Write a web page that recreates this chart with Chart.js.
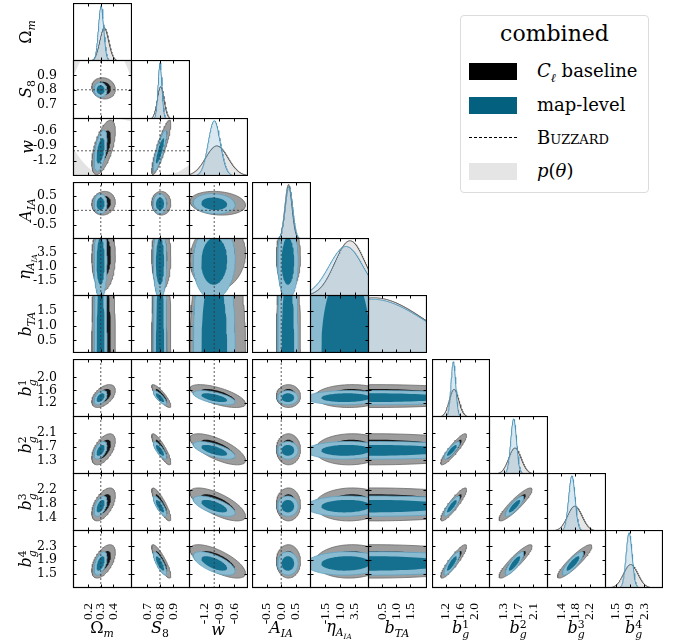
<!DOCTYPE html>
<html>
<head>
<meta charset="utf-8">
<script src="https://cdn.jsdelivr.net/npm/chart.js@4.4.1/dist/chart.umd.min.js"></script>
<style>
  body { margin: 0; background: #fff; }
  #fig { position: relative; width: 675px; height: 644px; overflow: hidden; font-family: "DejaVu Serif", serif; color: #000; }
  #fig canvas { position: absolute; }
  .ylab { position: absolute; transform: translate(-50%, -50%) rotate(-90deg); white-space: nowrap; font-size: 16px; }
  .xlab { position: absolute; transform: translate(-50%, -50%); white-space: nowrap; font-size: 16px; }
  .ss { display: inline-block; vertical-align: -0.45em; font-size: 0.68em; line-height: 0.95; }
  .ss span { display: block; }
  sub { font-size: 0.68em; }
  #legend { position: absolute; left: 460px; top: 15px; width: 189px; height: 178px; border: 1px solid #dcdcdc; border-radius: 4px; box-sizing: border-box; }
  #legend .title { position: absolute; left: 0; right: 0; top: 5px; text-align: center; font-size: 22px; }
  #legend .row { position: absolute; left: 0; height: 20px; }
  #legend .sw { position: absolute; left: 8px; top: 1px; width: 48px; height: 17px; }
  #legend .txt { position: absolute; left: 76px; top: -2px; font-size: 18px; white-space: nowrap; }
</style>
</head>
<body>
<div id="fig">
  <div id="legend">
    <div class="title">combined</div>
    <div class="row" style="top:46px"><div class="sw" style="background:#000"></div><div class="txt"><i>C</i><sub><i>ℓ</i></sub> baseline</div></div>
    <div class="row" style="top:80px"><div class="sw" style="background:#04607f"></div><div class="txt">map-level</div></div>
    <div class="row" style="top:113px"><div class="sw" style="height:0;top:8px;border-top:1px dashed #000"></div><div class="txt" style="font-variant:small-caps">Buzzard</div></div>
    <div class="row" style="top:146px"><div class="sw" style="background:#e5e5e5"></div><div class="txt"><i>p</i>(<i>θ</i>)</div></div>
  </div>
</div>
<script>
// parameters, in corner-plot order
const paramLabels = [
  'Ω<sub><i>m</i></sub>',
  '<i>S</i><sub>8</sub>',
  '<i>w</i>',
  '<i>A</i><sub><i>IA</i></sub>',
  '<i>η</i><sub><i>A</i><sub><i>IA</i></sub></sub>',
  '<i>b</i><sub><i>TA</i></sub>',
  '<i>b</i><span class="ss"><span>1</span><span><i>g</i></span></span>',
  '<i>b</i><span class="ss"><span>2</span><span><i>g</i></span></span>',
  '<i>b</i><span class="ss"><span>3</span><span><i>g</i></span></span>',
  '<i>b</i><span class="ss"><span>4</span><span><i>g</i></span></span>'
];
const tickVals = [
  [0.2, 0.3, 0.4], [0.7, 0.8, 0.9], [-1.2, -0.9, -0.6], [-0.5, 0.0, 0.5], [-1.5, 1.0, 3.5],
  [0.5, 1.0, 1.5], [1.2, 1.6, 2.0], [1.3, 1.7, 2.1], [1.4, 1.8, 2.2], [1.5, 1.9, 2.3]
];
// axis extents when the parameter is on x (column) and on y (row)
const colMin = [0.08, 0.577, -1.5, -1.01, -4.15, 0.0, 0.824, 0.89, 1.01, 1.2];
const colMax = [0.547, 1.031, -0.33, 1.03, 5.97, 2.09, 2.42, 2.51, 2.65, 2.83];
const rowMin = [0, 0.598, -1.51, -1.005, -4.24, 0.066, 0.77, 0.9, 1.01, 1.08];
const rowMax = [1, 1.006, -0.337, 0.995, 6.13, 2.05, 2.57, 2.59, 2.69, 2.78];
// BUZZARD input cosmology
const truth = [0.3, 0.8, -1.0, 0.0, null, null, null, null, null, null];

// 1D marginals (mean, std) : C_l baseline and map-level
const mean1C = [0.327, 0.805, -0.95, 0.25, 2.7, 0.2, 1.43, 1.6, 1.78, 1.92];
const sd1C   = [0.035, 0.026, 0.22, 0.12, 2.6, 1.8, 0.13, 0.17, 0.2, 0.2];
const mean1M = [0.302, 0.80, -1.0, 0.26, 2.0, 0.15, 1.41, 1.565, 1.70, 1.876];
const sd1M   = [0.021, 0.015, 0.12, 0.125, 2.9, 1.85, 0.065, 0.08, 0.09, 0.085];

// 2D contours (mean, std)
const mean2C = [0.322, 0.81, -0.93, 0.25, 2.8, 0.2, 1.42, 1.62, 1.78, 1.86];
const sd2C   = [0.038, 0.03, 0.225, 0.17, 2.5, 1.8, 0.145, 0.185, 0.195, 0.2];
const mean2M = [0.298, 0.80, -1.0, 0.23, 2.0, 0.15, 1.37, 1.59, 1.73, 1.8];
const sd2M   = [0.021, 0.021, 0.17, 0.145, 2.8, 1.8, 0.09, 0.105, 0.12, 0.14];

// correlation coefficients, row i against columns 0..i-1
const rhoC = [
  [],
  [-0.1],
  [0.6, 0.88],
  [0.1, 0.0, -0.15],
  [0.05, 0.0, 0.1, 0.0],
  [0.0, 0.0, 0.0, 0.0, 0.0],
  [0.5, -0.85, -0.65, 0.0, 0.05, 0.0],
  [0.55, -0.85, -0.7, 0.0, 0.05, 0.0, 0.9],
  [0.55, -0.85, -0.7, 0.0, 0.05, 0.0, 0.9, 0.9],
  [0.55, -0.85, -0.7, 0.0, 0.05, 0.0, 0.9, 0.9, 0.9]
];
const rhoM = [
  [],
  [-0.05],
  [0.5, 0.85],
  [0.0, 0.0, -0.1],
  [0.0, 0.0, 0.05, 0.0],
  [0.0, 0.0, 0.0, 0.0, 0.0],
  [0.45, -0.8, -0.6, 0.0, 0.05, 0.0],
  [0.5, -0.8, -0.65, 0.0, 0.05, 0.0, 0.85],
  [0.5, -0.8, -0.65, 0.0, 0.05, 0.0, 0.85, 0.85],
  [0.5, -0.8, -0.65, 0.0, 0.05, 0.0, 0.85, 0.85, 0.85]
];
const contourLevels = [0.68, 0.95];

// prior p(theta) regions that reach into the plotted window: [row, col, outline in parameter units]
const priorPatches = [
  [1, 0, [[0.08, 1.006], [0.135, 1.006], [0.112, 0.95], [0.08, 0.895]]],
  [1, 0, [[0.485, 1.006], [0.547, 1.006], [0.547, 0.86], [0.52, 0.93]]],
  [2, 0, [[0.08, -0.95], [0.15, -1.2], [0.23, -1.405], [0.295, -1.51], [0.08, -1.51]]],
  [2, 0, [[0.40, -0.337], [0.547, -0.337], [0.547, -0.40], [0.47, -0.36]]],
  [2, 1, [[0.83, -1.51], [1.031, -1.51], [1.031, -1.30], [0.94, -1.43]]]
];

// panel grid (pixel edges)
const colEdges = [[73,131],[131,189],[189,247],[252,310],[310,368],[368,426],[432,489],[489,547],[547,605],[605,662]];
const rowEdges = [[3,60],[60,118],[118,175],[182,238],[238,295],[295,352],[359,416],[416,473],[473,530],[530,587]];

const colors = {
  prior: '#e3e3e3',
  cOuter: '#9d9d9d', cOuterLine: '#6a6a6a', cInner: '#161616',
  mOuter: '#8bbbd0', mOuterLine: '#5fa2c3', mInner: '#15708f',
  cLine1d: '#555555', cFill1d: 'rgba(60,60,60,0.13)',
  mLine1d: '#4f96ba', mFill1d: 'rgba(80,150,190,0.22)',
  truth: '#333333'
};

const fig = document.getElementById('fig');
const N = paramLabels.length;

function levelRadius(p) {
  return Math.sqrt(-2 * Math.log(1 - p));
}

function ellipse(mx, my, sx, sy, rho, r) {
  const pts = [];
  const k = Math.sqrt(1 - rho * rho);
  for (let t = 0; t <= 90; t++) {
    const a = t / 90 * 2 * Math.PI;
    pts.push({ x: mx + r * sx * Math.cos(a), y: my + r * sy * (rho * Math.cos(a) + k * Math.sin(a)) });
  }
  return pts;
}

function gaussCurve(m, s, lo, hi) {
  const pts = [];
  for (let t = 0; t <= 120; t++) {
    const x = lo + (hi - lo) * t / 120;
    const z = (x - m) / s;
    pts.push({ x, y: Math.exp(-0.5 * z * z) / s });
  }
  return pts;
}

function shape(data, fill, line, order, tension = 0) {
  return {
    data, showLine: true, fill: 'shape', backgroundColor: fill,
    borderColor: line || 'rgba(0,0,0,0)', borderWidth: line ? 0.8 : 0,
    pointRadius: 0, order, tension
  };
}

// frame and inward ticks on every side
const framePlugin = {
  id: 'frame',
  afterDatasetsDraw(chart, args, opts) {
    const { ctx, chartArea: a, scales } = chart;
    const len = 3.5;
    ctx.save();
    ctx.strokeStyle = '#000';
    ctx.lineWidth = 1;
    ctx.beginPath();
    for (const v of opts.xt) {
      const px = Math.round(scales.x.getPixelForValue(v)) + 0.5;
      ctx.moveTo(px, a.top); ctx.lineTo(px, a.top + len);
      ctx.moveTo(px, a.bottom); ctx.lineTo(px, a.bottom - len);
    }
    for (const v of opts.yt) {
      const py = Math.round(scales.y.getPixelForValue(v)) + 0.5;
      ctx.moveTo(a.left, py); ctx.lineTo(a.left + len, py);
      ctx.moveTo(a.right, py); ctx.lineTo(a.right - len, py);
    }
    ctx.stroke();
    ctx.lineWidth = 1.2;
    ctx.strokeRect(a.left + 0.5, a.top + 0.5, a.right - a.left - 1, a.bottom - a.top - 1);
    ctx.restore();
  }
};

const yTickFont = { family: 'DejaVu Serif', size: 12.5 };
const xTickFont = { family: 'Liberation Serif', size: 13.5 };
const padY = 70, padX = 42;

function zeroPad(s) {
  s.paddingTop = s.paddingBottom = s.paddingLeft = s.paddingRight = 0;
}

function makePanel(i, j) {
  const [left, right] = colEdges[j];
  const [top, bottom] = rowEdges[i];
  const diag = i === j;
  const showY = j === 0 && !diag;
  const showX = i === N - 1;
  const w = right - left + 1 + (showY ? padY : 0);
  const h = bottom - top + 1 + (showX ? padX : 0);

  const cv = document.createElement('canvas');
  cv.width = w; cv.height = h;
  cv.style.width = w + 'px'; cv.style.height = h + 'px';
  cv.style.left = (left - (showY ? padY : 0)) + 'px';
  cv.style.top = top + 'px';
  fig.appendChild(cv);

  const datasets = [];
  let yMin = rowMin[i], yMax = rowMax[i];

  if (diag) {
    const lo = colMin[j], hi = colMax[j];
    datasets.push({
      data: gaussCurve(mean1M[j], sd1M[j], lo, hi), showLine: true, fill: 'origin',
      backgroundColor: colors.mFill1d, borderColor: colors.mLine1d, borderWidth: 1, pointRadius: 0, order: 1
    });
    datasets.push({
      data: gaussCurve(mean1C[j], sd1C[j], lo, hi), showLine: true, fill: 'origin',
      backgroundColor: colors.cFill1d, borderColor: colors.cLine1d, borderWidth: 1, pointRadius: 0, order: 2
    });
    yMin = 0;
    yMax = 1.05 * Math.max(1 / sd1C[j], 1 / sd1M[j]);
  } else {
    const [r1, r2] = contourLevels.map(levelRadius);
    const rc = rhoC[i][j], rm = rhoM[i][j];
    datasets.push(shape(ellipse(mean2M[j], mean2M[i], sd2M[j], sd2M[i], rm, r1), colors.mInner, null, 1));
    datasets.push(shape(ellipse(mean2M[j], mean2M[i], sd2M[j], sd2M[i], rm, r2), colors.mOuter, colors.mOuterLine, 2));
    datasets.push(shape(ellipse(mean2C[j], mean2C[i], sd2C[j], sd2C[i], rc, r1), colors.cInner, null, 3));
    datasets.push(shape(ellipse(mean2C[j], mean2C[i], sd2C[j], sd2C[i], rc, r2), colors.cOuter, colors.cOuterLine, 4));
    for (const [pi, pj, outline] of priorPatches) {
      if (pi === i && pj === j) {
        const pts = outline.map(([x, y]) => ({ x, y }));
        pts.push(pts[0]);
        datasets.push(shape(pts, colors.prior, null, 5, 0.3));
      }
    }
    const dashed = { showLine: true, fill: false, borderColor: colors.truth, borderWidth: 0.8, borderDash: [2, 2], pointRadius: 0, order: 0 };
    if (truth[j] !== null) {
      datasets.push(Object.assign({ data: [{ x: truth[j], y: yMin }, { x: truth[j], y: yMax }] }, dashed));
    }
    if (truth[i] !== null) {
      datasets.push(Object.assign({ data: [{ x: colMin[j], y: truth[i] }, { x: colMax[j], y: truth[i] }] }, dashed));
    }
  }

  new Chart(cv, {
    type: 'scatter',
    data: { datasets },
    plugins: [framePlugin],
    options: {
      responsive: false, maintainAspectRatio: false, animation: false, devicePixelRatio: 1,
      layout: { padding: 0, autoPadding: false },
      plugins: {
        legend: { display: false }, tooltip: { enabled: false },
        frame: { xt: tickVals[j], yt: diag ? [] : tickVals[i] }
      },
      scales: {
        x: {
          type: 'linear', min: colMin[j], max: colMax[j], display: showX,
          grid: { display: false }, border: { display: false },
          afterBuildTicks: s => { s.ticks = tickVals[j].map(v => ({ value: v })); },
          afterFit: s => { if (showX) { s.height = padX; zeroPad(s); } },
          ticks: { font: xTickFont, color: '#000', padding: 7, minRotation: 90, maxRotation: 90, autoSkip: false,
                   callback: v => v.toFixed(1) }
        },
        y: {
          type: 'linear', min: yMin, max: yMax, display: showY,
          grid: { display: false }, border: { display: false },
          afterBuildTicks: s => { s.ticks = tickVals[i].map(v => ({ value: v })); },
          afterFit: s => { if (showY) { s.width = padY; zeroPad(s); } },
          ticks: { font: yTickFont, color: '#000', padding: 8, autoSkip: false,
                   callback: v => v.toFixed(1) }
        }
      }
    }
  });
}

for (let i = 0; i < N; i++) {
  for (let j = 0; j <= i; j++) makePanel(i, j);
}

// axis titles
for (let k = 0; k < N; k++) {
  const yl = document.createElement('div');
  yl.className = 'ylab';
  yl.innerHTML = paramLabels[k];
  yl.style.left = '27px';
  yl.style.top = ((rowEdges[k][0] + rowEdges[k][1]) / 2) + 'px';
  fig.appendChild(yl);

  const xl = document.createElement('div');
  xl.className = 'xlab';
  xl.innerHTML = paramLabels[k];
  xl.style.left = ((colEdges[k][0] + colEdges[k][1]) / 2) + 'px';
  xl.style.top = '629px';
  fig.appendChild(xl);
}
</script>
</body>
</html>
